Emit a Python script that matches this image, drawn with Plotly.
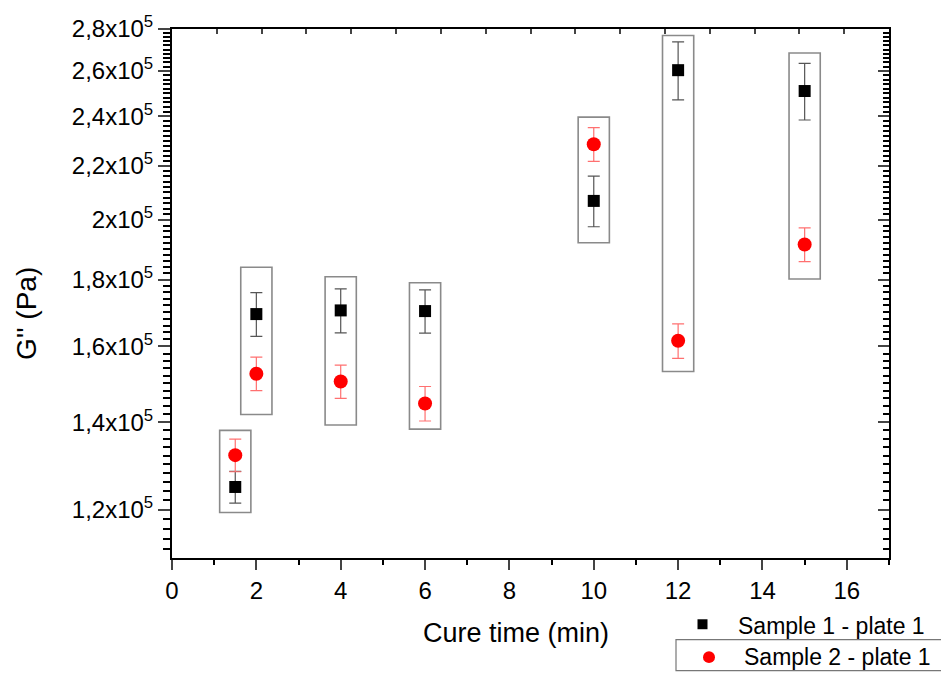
import numpy as np
import plotly.graph_objects as go

# ---- data ----
cure_time = [1.5, 2, 4, 6, 10, 12, 15]
s1_g2 = [124900, 169400, 170500, 170300, 206800, 260400, 251000]
s1_err = [3500, 6500, 6600, 6500, 9200, 13300, 12500]
s2_g2 = [132100, 152500, 150400, 144700, 228500, 161600, 191500]
s2_err = [3800, 4500, 4400, 4400, 6800, 4900, 5700]
box_low = [119400, 141900, 139300, 138300, 192100, 153100, 180200]
box_high = [138000, 184000, 180900, 179000, 239700, 276800, 268400]
ytick_vals = [120000, 140000, 160000, 180000, 200000, 220000, 240000, 260000, 280000]
ytick_text = ["1,2x10<sup>5</sup>", "1,4x10<sup>5</sup>", "1,6x10<sup>5</sup>",
              "1,8x10<sup>5</sup>", "2x10<sup>5</sup>", "2,2x10<sup>5</sup>",
              "2,4x10<sup>5</sup>", "2,6x10<sup>5</sup>", "2,8x10<sup>5</sup>"]
name1 = "Sample 1 - plate 1"
name2 = "Sample 2 - plate 1"

FONT = "Arial, Liberation Sans, sans-serif"
yr = [np.log10(110200), np.log10(280000)]
minor_vals = list(np.arange(110000, 282000, 2000))

# plot-area geometry in pixels (used for paper-coordinate helpers)
L, R, T, B = 172, 889, 27, 558
W, H = R - L, B - T


def px(xp):
    return (xp - L) / W


def py(yp):
    return (B - yp) / H


fig = go.Figure()

# boxes around each pair
for x, lo, hi in zip(cure_time, box_low, box_high):
    fig.add_shape(type="rect", xref="x", yref="y", x0=x - 0.37, x1=x + 0.37,
                  y0=lo, y1=hi, line=dict(color="#8a8a8a", width=1.6),
                  fillcolor="rgba(0,0,0,0)", layer="below")

fig.add_trace(go.Scatter(
    x=cure_time, y=s1_g2, mode="markers", name=name1, showlegend=False,
    marker=dict(symbol="square", size=12, color="black"),
    error_y=dict(type="data", array=s1_err, color="#555555", thickness=1.2, width=6)))
fig.add_trace(go.Scatter(
    x=cure_time, y=s2_g2, mode="markers", name=name2, showlegend=False,
    marker=dict(symbol="circle", size=14, color="#ff0000"),
    error_y=dict(type="data", array=s2_err, color="#ff7070", thickness=1.2, width=6)))

# dummy trace for the mirrored top/right axes
fig.add_trace(go.Scatter(x=[None], y=[None], xaxis="x2", yaxis="y2",
                         showlegend=False, hoverinfo="skip"))

fig.update_layout(
    width=941, height=673,
    margin=dict(l=L, r=941 - R, t=T, b=673 - B),
    paper_bgcolor="white", plot_bgcolor="white",
    font=dict(family=FONT, color="black", size=24),
    showlegend=False,
    xaxis=dict(range=[0, 17], dtick=2, tick0=0, ticks="outside", ticklen=10,
               tickwidth=2, showline=True, linewidth=2, linecolor="black",
               showgrid=False, zeroline=False, tickfont=dict(size=24),
               minor=dict(dtick=1, ticks="outside", ticklen=5, tickwidth=2,
                          tickcolor="black", showgrid=False)),
    yaxis=dict(type="log", range=yr, tickmode="array", tickvals=ytick_vals,
               ticktext=ytick_text, ticks="outside", ticklen=12, tickwidth=2,
               showline=True, linewidth=2, linecolor="black", showgrid=False,
               zeroline=False, tickfont=dict(size=24),
               minor=dict(tickmode="array", tickvals=minor_vals, ticks="outside",
                          ticklen=7, tickwidth=1.5, tickcolor="black", showgrid=False)),
    xaxis2=dict(overlaying="x", side="top", range=[0, 16], dtick=1, tick0=0,
                ticks="inside", ticklen=5, tickwidth=2, showline=True, linewidth=2,
                linecolor="black", showticklabels=False, showgrid=False, zeroline=False),
    yaxis2=dict(overlaying="y", side="right", type="log", range=yr, tickmode="array",
                tickvals=ytick_vals, ticks="inside", ticklen=11, tickwidth=2,
                showline=True, linewidth=2, linecolor="black", showticklabels=False,
                showgrid=False, zeroline=False,
                minor=dict(tickmode="array", tickvals=minor_vals, ticks="inside",
                           ticklen=6, tickwidth=1.5, tickcolor="black", showgrid=False)),
)

# ---- hand-drawn legend (outside the plot area, bottom right) ----
fig.add_shape(type="rect", xref="paper", yref="paper",
              x0=px(676), x1=px(960), y0=py(671), y1=py(640),
              line=dict(color="#777777", width=1.2), fillcolor="rgba(0,0,0,0)")
fig.add_shape(type="rect", xref="paper", yref="paper",
              x0=px(697.5), x1=px(707.5), y0=py(629.5), y1=py(619.5),
              line=dict(width=0), fillcolor="black")
fig.add_shape(type="circle", xref="paper", yref="paper",
              x0=px(703), x1=px(715), y0=py(663.5), y1=py(651.5),
              line=dict(width=0), fillcolor="#ff0000")
fig.add_annotation(text=name1, xref="paper", yref="paper", x=px(736), y=py(626),
                   xanchor="left", yanchor="middle", showarrow=False,
                   font=dict(family=FONT, size=23))
fig.add_annotation(text=name2, xref="paper", yref="paper", x=px(742), y=py(657),
                   xanchor="left", yanchor="middle", showarrow=False,
                   font=dict(family=FONT, size=23))

# axis titles
fig.add_annotation(text="Cure time (min)", xref="paper", yref="paper",
                   x=px(516), y=py(633), showarrow=False,
                   font=dict(family=FONT, size=27), xanchor="center", yanchor="middle")
fig.add_annotation(text="G'' (Pa)", xref="paper", yref="paper",
                   x=px(27), y=py(313), showarrow=False,
                   textangle=-90, font=dict(family=FONT, size=28),
                   xanchor="center", yanchor="middle")

fig.write_html("out.html", config={"displayModeBar": False},
               post_script="document.body.style.margin='0';document.body.style.overflow='hidden';")
